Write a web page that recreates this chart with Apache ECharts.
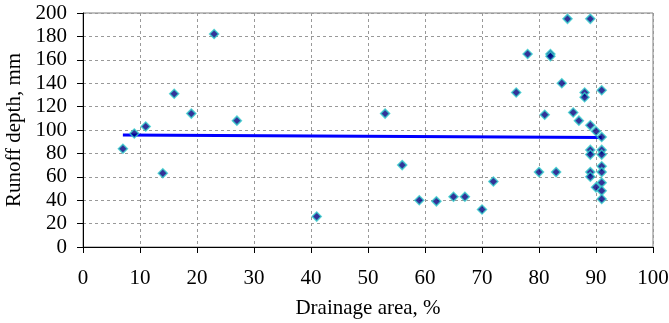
<!DOCTYPE html>
<html>
<head>
<meta charset="utf-8">
<script src="https://cdn.jsdelivr.net/npm/echarts@6/dist/echarts.min.js"></script>
<style>
  html, body { margin: 0; padding: 0; background: #fff; }
  #chart { width: 669px; height: 323px; }
</style>
</head>
<body>
<div id="chart"></div>
<script>
// drainage area (%) and runoff depth (mm)
const drainageArea = [
  7, 9, 11, 14, 16, 19, 23, 27, 41, 53, 56, 59, 62, 65, 67, 70, 72,
  76, 78, 80, 81, 82, 82, 83, 84, 85, 86, 87, 88, 88, 89, 89,
  89, 89, 89, 89, 90, 90, 91, 91, 91, 91, 91, 91, 91, 91, 91
]
const runoffDepth = [
  84, 97, 103, 63, 131, 114, 182, 108, 26, 114, 70, 40, 39, 43, 43, 32, 56,
  132, 165, 64, 113, 165, 163, 64, 140, 195, 115, 108, 132, 128, 195, 104,
  83, 79, 64, 60, 99, 51, 94, 134, 83, 79, 69, 64, 55, 48, 41
]
// trend line end points
const trendX = [7, 91]
const trendY = [95.7, 93.6]

const xTicks = [0, 10, 20, 30, 40, 50, 60, 70, 80, 90, 100]
const yTicks = [0, 20, 40, 60, 80, 100, 120, 140, 160, 180, 200]

const chart = echarts.init(document.getElementById('chart'))
const font = 'Liberation Serif'

chart.setOption({
  animation: false,
  grid: {
    left: 83, right: 16, top: 13, bottom: 76,
    outerBoundsMode: 'none',
    show: true, borderColor: '#808080', borderWidth: 1
  },
  xAxis: {
    type: 'value',
    min: xTicks[0],
    max: xTicks[xTicks.length - 1],
    interval: 10,
    name: 'Drainage area, %',
    nameLocation: 'middle',
    nameGap: 51,
    nameTextStyle: { fontFamily: font, fontSize: 21, color: '#000' },
    axisLine: { show: true, onZero: false, lineStyle: { color: '#000', width: 1 } },
    axisTick: { show: true, length: 6, inside: false, lineStyle: { color: '#000' } },
    axisLabel: { fontFamily: font, fontSize: 21, color: '#000', margin: 21 },
    splitLine: { show: true, lineStyle: { color: '#999', type: [3, 3], width: 1 } }
  },
  yAxis: {
    type: 'value',
    min: yTicks[0],
    max: yTicks[yTicks.length - 1],
    interval: 20,
    name: 'Runoff depth, mm',
    nameLocation: 'middle',
    nameGap: 58,
    nameTextStyle: { fontFamily: font, fontSize: 21, color: '#000' },
    axisLine: { show: true, onZero: false, lineStyle: { color: '#000', width: 1 } },
    axisTick: { show: true, length: 6, inside: false, lineStyle: { color: '#000' } },
    axisLabel: { fontFamily: font, fontSize: 21, color: '#000', margin: 16 },
    splitLine: { show: true, lineStyle: { color: '#999', type: [3, 3], width: 1 } }
  },
  series: [
    {
      type: 'line',
      data: trendX.map((x, i) => [x, trendY[i]]),
      showSymbol: false,
      lineStyle: { color: '#0000ff', width: 3 },
      z: 2
    },
    {
      type: 'scatter',
      data: drainageArea.map((x, i) => [x, runoffDepth[i]]),
      symbol: 'diamond',
      symbolSize: 9,
      itemStyle: { color: '#000080', borderColor: '#33cccc', borderWidth: 1.5 },
      z: 3
    }
  ]
})
</script>
</body>
</html>
